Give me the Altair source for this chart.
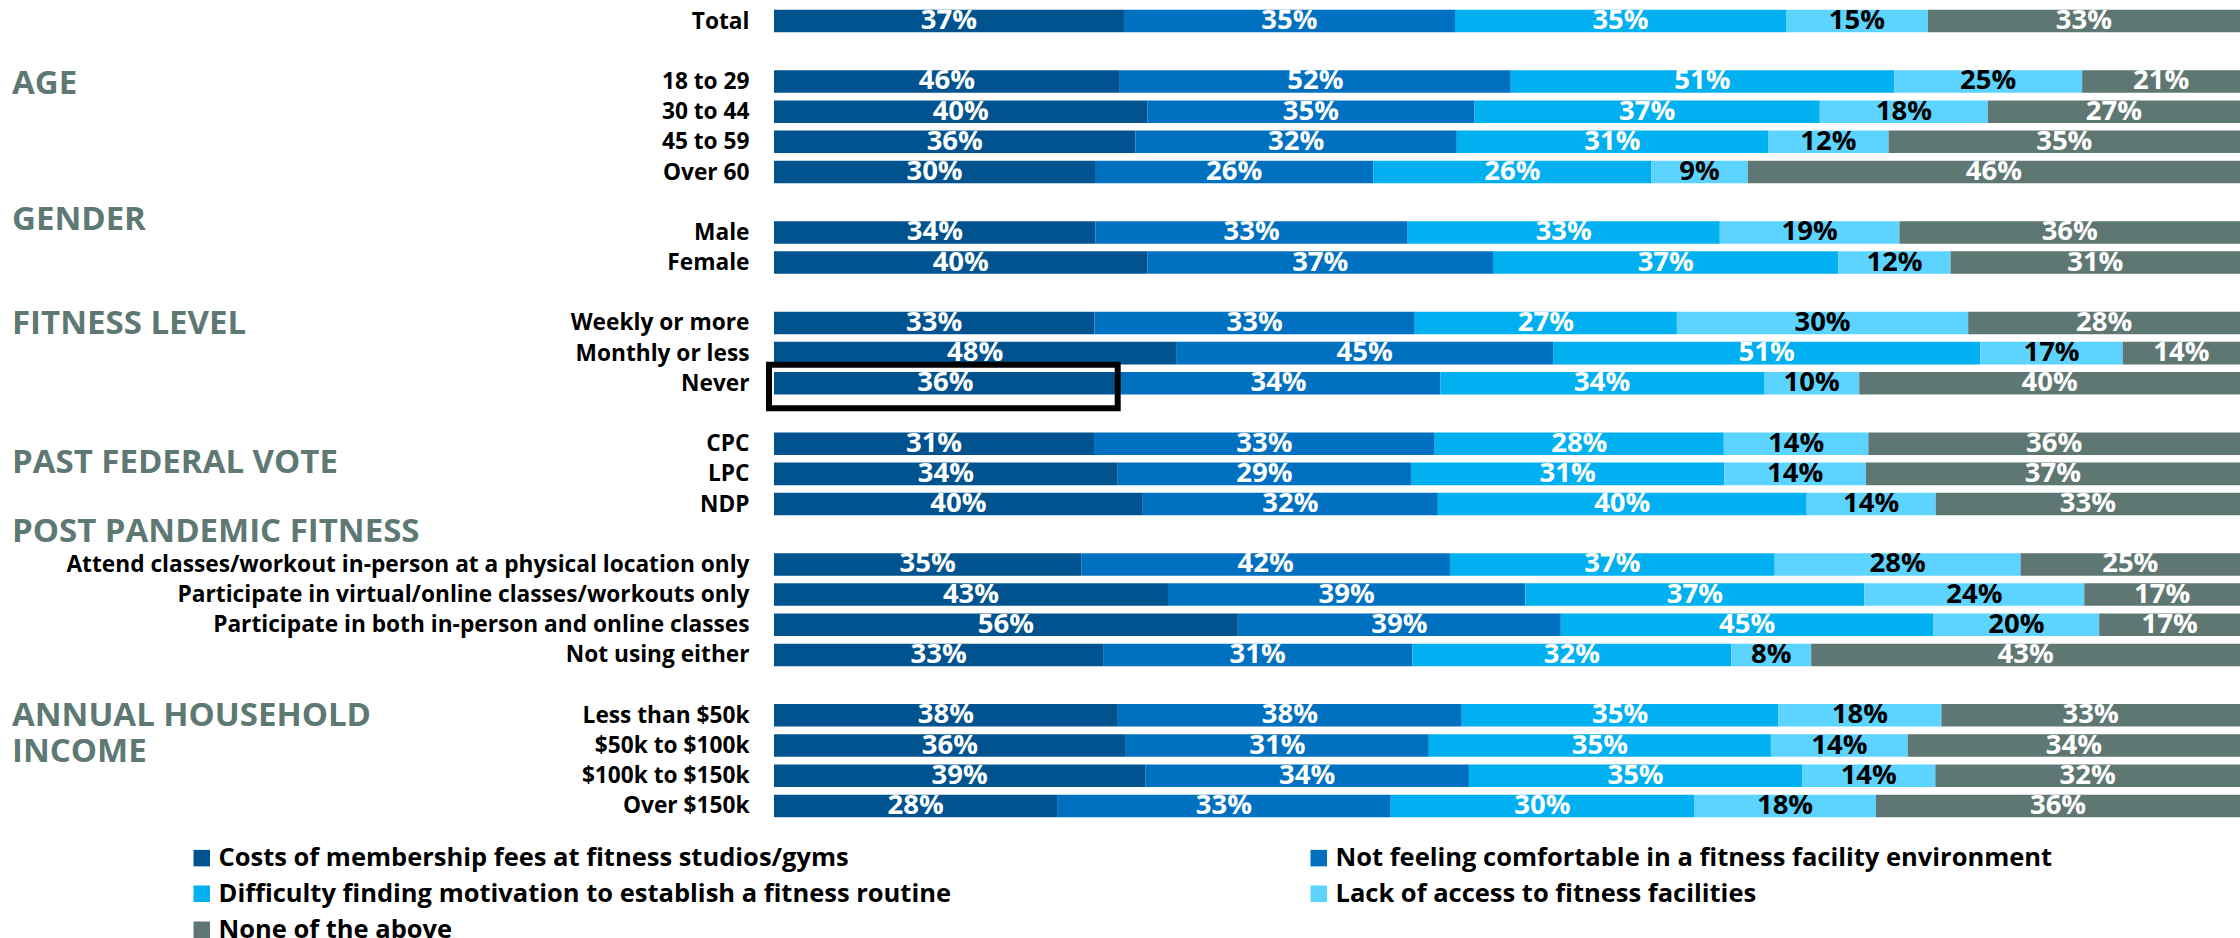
import altair as alt
import pandas as pd

# Answer options (stack order, left to right) and their fills
CATEGORIES = [
    "Costs of membership fees at fitness studios/gyms",
    "Not feeling comfortable in a fitness facility environment",
    "Difficulty finding motivation to establish a fitness routine",
    "Lack of access to fitness facilities",
    "None of the above",
]
COLORS = ["#00538F", "#0070C0", "#00B0F0", "#5DD3FF", "#5F7772"]
DARK_TEXT_CATEGORY = "Lack of access to fitness facilities"

# Row groups: labels and the five percentages for each row
TOTAL_ROWS = ["Total"]
TOTAL_VALUES = [[37, 35, 35, 15, 33]]

AGE_ROWS = ["18 to 29", "30 to 44", "45 to 59", "Over 60"]
AGE_VALUES = [
    [46, 52, 51, 25, 21],
    [40, 35, 37, 18, 27],
    [36, 32, 31, 12, 35],
    [30, 26, 26, 9, 46],
]

GENDER_ROWS = ["Male", "Female"]
GENDER_VALUES = [
    [34, 33, 33, 19, 36],
    [40, 37, 37, 12, 31],
]

FITNESS_ROWS = ["Weekly or more", "Monthly or less", "Never"]
FITNESS_VALUES = [
    [33, 33, 27, 30, 28],
    [48, 45, 51, 17, 14],
    [36, 34, 34, 10, 40],
]

VOTE_ROWS = ["CPC", "LPC", "NDP"]
VOTE_VALUES = [
    [31, 33, 28, 14, 36],
    [34, 29, 31, 14, 37],
    [40, 32, 40, 14, 33],
]

PANDEMIC_ROWS = [
    "Attend classes/workout in-person at a physical location only",
    "Participate in virtual/online classes/workouts only",
    "Participate in both in-person and online classes",
    "Not using either",
]
PANDEMIC_VALUES = [
    [35, 42, 37, 28, 25],
    [43, 39, 37, 24, 17],
    [56, 39, 45, 20, 17],
    [33, 31, 32, 8, 43],
]

INCOME_ROWS = ["Less than $50k", "$50k to $100k", "$100k to $150k", "Over $150k"]
INCOME_VALUES = [
    [38, 38, 35, 18, 33],
    [36, 31, 35, 14, 34],
    [39, 34, 35, 14, 32],
    [28, 33, 30, 18, 36],
]

GROUPS = [
    (TOTAL_ROWS, TOTAL_VALUES),
    (AGE_ROWS, AGE_VALUES),
    (GENDER_ROWS, GENDER_VALUES),
    (FITNESS_ROWS, FITNESS_VALUES),
    (VOTE_ROWS, VOTE_VALUES),
    (PANDEMIC_ROWS, PANDEMIC_VALUES),
    (INCOME_ROWS, INCOME_VALUES),
]

# Section headings drawn in the left margin
HEADINGS = ["AGE", "GENDER", "FITNESS LEVEL", "PAST FEDERAL VOTE",
            "POST PANDEMIC FITNESS", "ANNUAL HOUSEHOLD", "INCOME"]
HIGHLIGHT_ROW = "Never"

# ---- layout (row slots; one empty slot between groups) ----
records = []
row_slots = []
slot_labels = {}
slot = 0
group_first_slot = []
for rows, values in GROUPS:
    group_first_slot.append(slot)
    for name, vals in zip(rows, values):
        row_slots.append(slot)
        slot_labels[slot] = name
        for order, (cat, v) in enumerate(zip(CATEGORIES, vals)):
            records.append({"row": name, "slot": slot, "cat": cat,
                            "order": order, "value": v})
        slot += 1
    slot += 1
n_slots = slot - 1

df = pd.DataFrame(records)

# heading placement relative to the first row of each group
heading_pos = [
    group_first_slot[1] + 0.07,
    group_first_slot[2] - 0.42,
    group_first_slot[3] + 0.03,
    group_first_slot[4] + 0.63,
    group_first_slot[5] - 1.07,
    group_first_slot[6] + 0.03,
    group_first_slot[6] + 1.2,
]
head_df = pd.DataFrame({"text": HEADINGS, "pos": heading_pos})

W, H = 1466, 815
LEFT, TOP = 774, 6
FONT = "Open Sans"

y_scale = alt.Scale(domain=[-0.5, n_slots - 0.5], reverse=True, nice=False, zero=False)
x_scale = alt.Scale(domain=[0, 1], nice=False, zero=True)

label_array = "[" + ",".join(
    "'" + slot_labels.get(i, "") + "'" for i in range(n_slots)) + "]"

y_axis = alt.Axis(
    values=row_slots,
    labelExpr=label_array + "[datum.value]",
    domain=False, ticks=False, grid=False, title=None,
    labelFont=FONT, labelFontWeight="bold", labelFontSize=22.7,
    labelColor="black", labelPadding=25, labelLimit=1000,
)

# legend entries fill column by column: this order reads row by row
legend_order = [CATEGORIES[0], CATEGORIES[2], CATEGORIES[4],
                CATEGORIES[1], CATEGORIES[3]]

base = (
    alt.Chart(df)
    .transform_stack(
        stack="value", groupby=["row"], as_=["v0", "v1"],
        offset="normalize", sort=[alt.SortField("order")],
    )
    .transform_calculate(
        mid="(datum.v0 + datum.v1) / 2",
        y0="datum.slot - 0.373",
        y1="datum.slot + 0.373",
        label="datum.value + '%'",
        fg=f"datum.cat === '{DARK_TEXT_CATEGORY}' ? 'black' : 'white'",
    )
)

bars = base.mark_rect().encode(
    x=alt.X("v0:Q", scale=x_scale, axis=None),
    x2="v1:Q",
    y=alt.Y("y0:Q", scale=y_scale, axis=y_axis),
    y2="y1:Q",
    color=alt.Color(
        "cat:N",
        scale=alt.Scale(domain=CATEGORIES, range=COLORS),
        legend=alt.Legend(
            title=None, orient="none", legendX=189 - LEFT, legendY=839,
            direction="vertical", columns=2, columnPadding=354, rowPadding=9,
            values=legend_order,
            symbolType="square", symbolSize=272, symbolStrokeWidth=0,
            labelFont=FONT, labelFontWeight="bold", labelFontSize=25.5,
            labelColor="black", labelLimit=1000, labelOffset=4, padding=0,
        ),
    ),
    order=alt.Order("order:Q"),
)

labels = base.mark_text(
    font=FONT, fontWeight="bold", fontSize=27.5, baseline="middle", align="center",
).encode(
    x=alt.X("mid:Q", scale=x_scale, axis=None),
    y=alt.Y("slot:Q", scale=y_scale, axis=y_axis),
    text="label:N",
    color=alt.Color("fg:N", scale=None),
)

highlight = (
    base.transform_filter(f"datum.row === '{HIGHLIGHT_ROW}' && datum.order === 0")
    .transform_calculate(b0="datum.slot - 0.614", b1="datum.slot + 0.827")
    .mark_rect(fillOpacity=0, stroke="black", strokeWidth=6, xOffset=-5, x2Offset=1)
    .encode(
        x=alt.X("v0:Q", scale=x_scale, axis=None),
        x2="v1:Q",
        y=alt.Y("b0:Q", scale=y_scale, axis=y_axis),
        y2="b1:Q",
    )
)

headings = alt.Chart(head_df).mark_text(
    font=FONT, fontWeight="bold", fontSize=33, align="left", baseline="middle",
    color="#5E7874",
).encode(
    x=alt.value(12 - LEFT),
    y=alt.Y("pos:Q", scale=y_scale, axis=y_axis),
    text="text:N",
)

chart = (
    alt.layer(bars, labels, highlight, headings)
    .properties(
        width=W, height=H,
        autosize=alt.AutoSizeParams(type="none"),
        padding={"left": LEFT, "top": TOP, "right": 0, "bottom": 938 - TOP - H},
        background="white",
    )
    .configure_view(stroke=None)
)

chart.save("out.html", embed_options={"renderer": "svg", "actions": False})
